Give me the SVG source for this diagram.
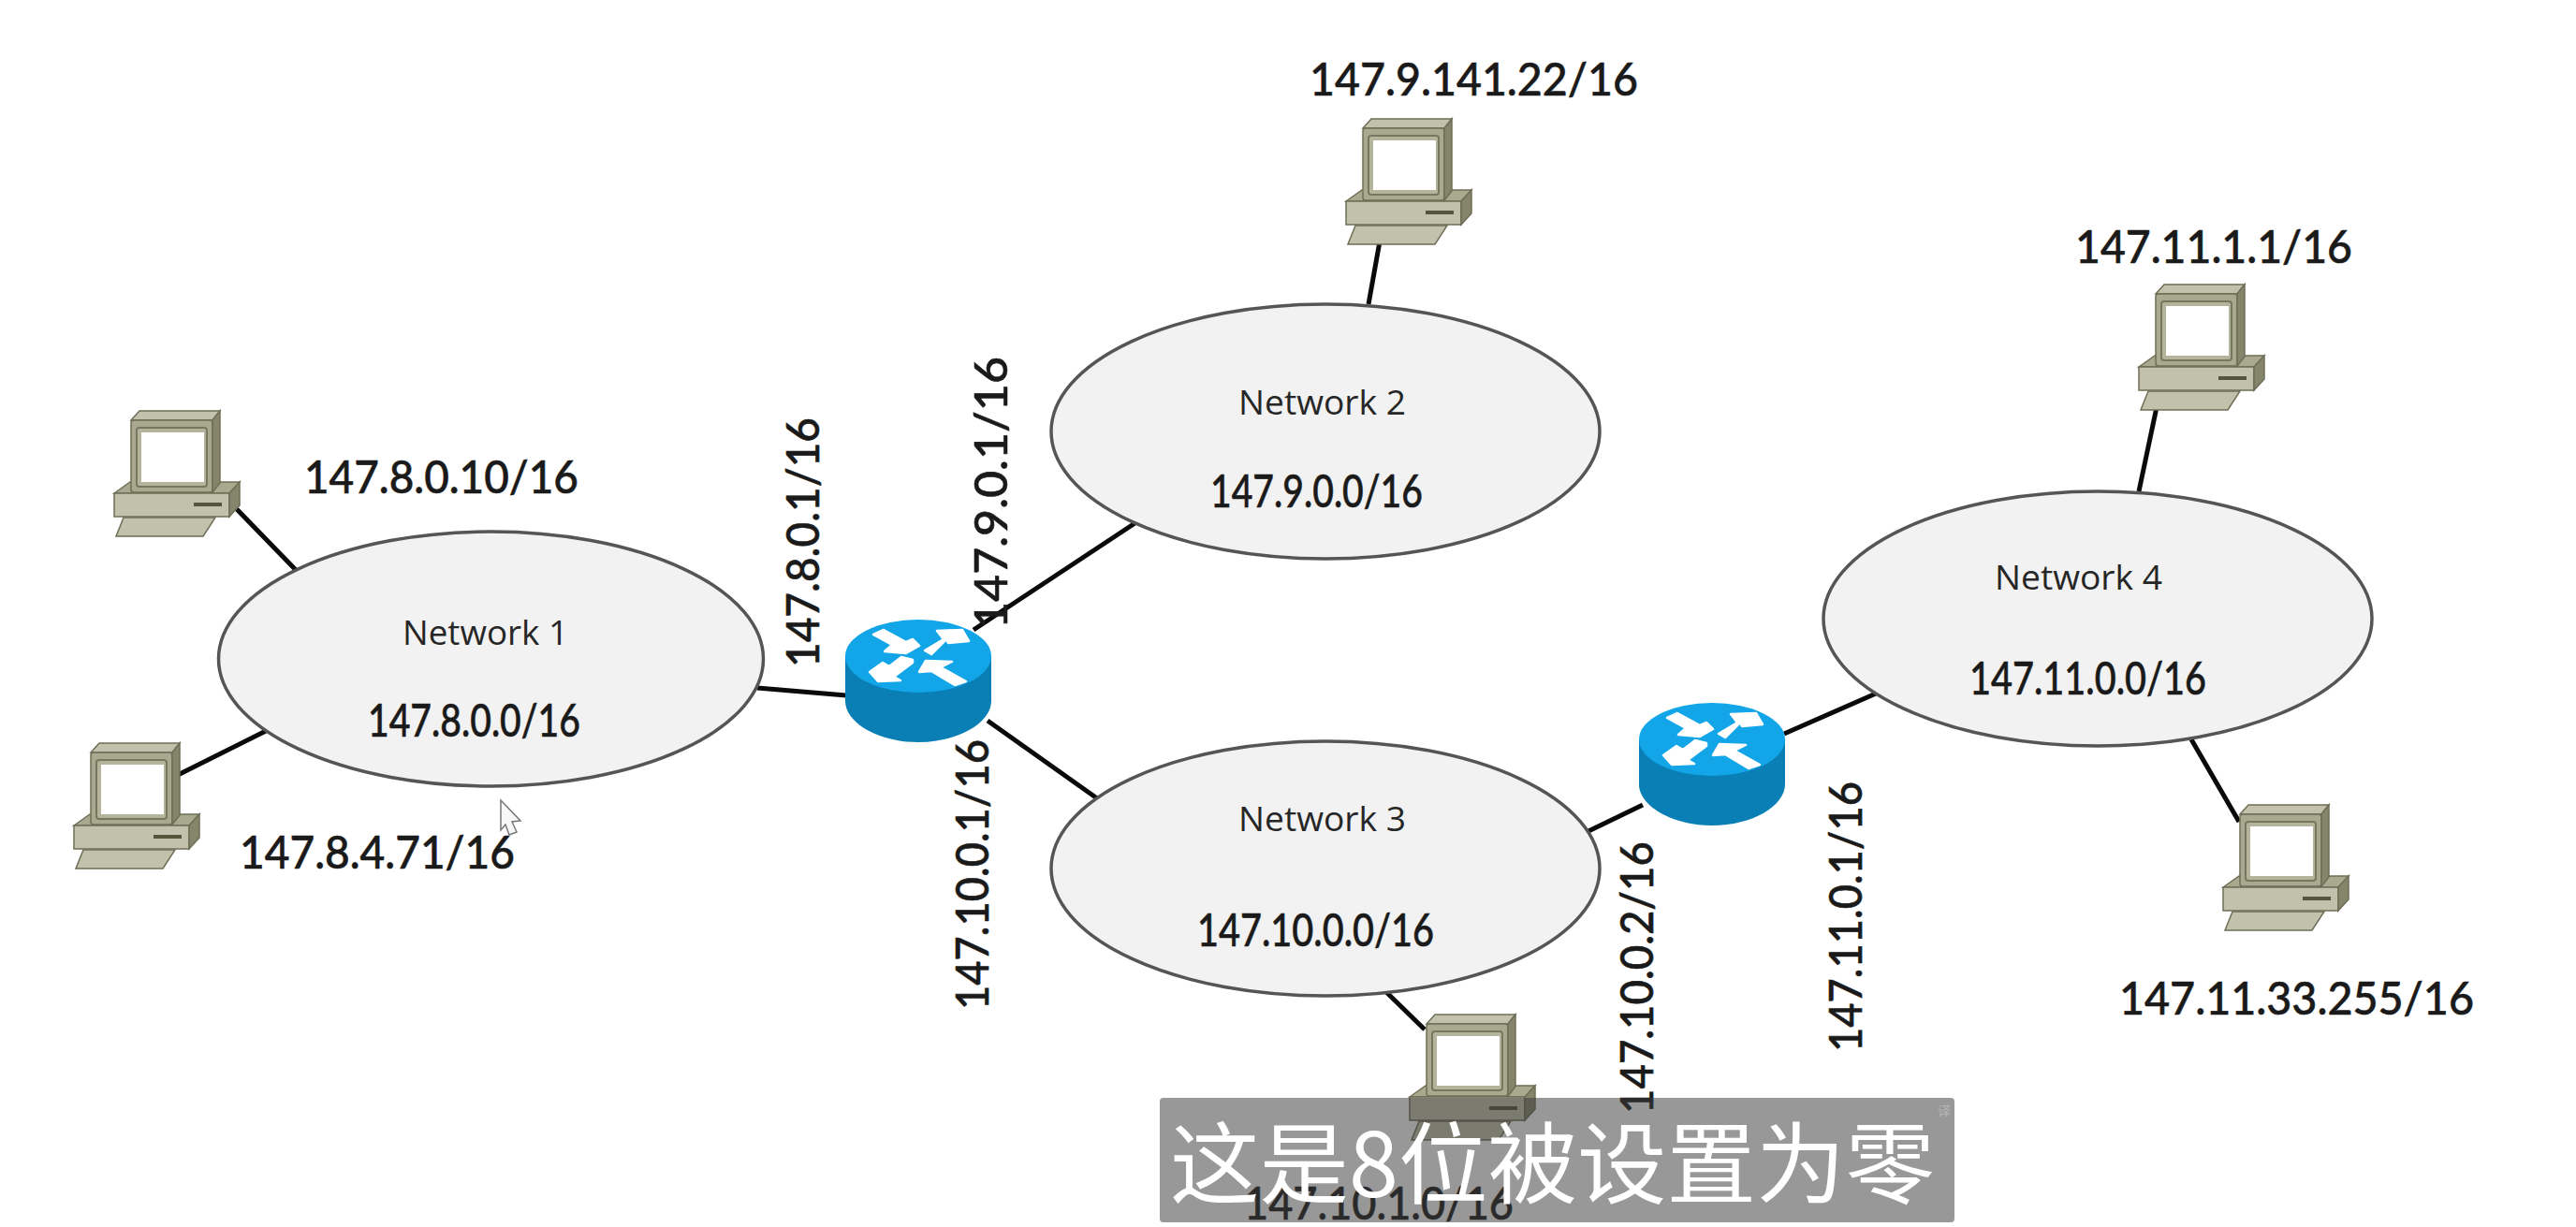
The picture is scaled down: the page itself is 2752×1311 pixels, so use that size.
<svg xmlns="http://www.w3.org/2000/svg" width="2752" height="1311" viewBox="0 0 2752 1311">
<style>
.net{fill:#f2f2f2;stroke:#555;stroke-width:3.5}
.link{stroke:#0a0a0a;stroke-width:5;fill:none;stroke-linecap:butt}
.ip{font-family:Lato,"Open Sans",sans-serif;font-size:49px;fill:#1a1a1a;font-weight:500;stroke:#1a1a1a;stroke-width:0.6}
.name{font-family:"Open Sans","Noto Sans",sans-serif;font-size:36px;fill:#262626}
.pc-l{fill:#c2c2ac;stroke:#6f6f58;stroke-width:1.5}
.pc-m{fill:#a9a98f;stroke:#6f6f58;stroke-width:1.5}
.pc-d{fill:#85856b;stroke:#6f6f58;stroke-width:1.5}
.arrow{fill:#fff;stroke:#fff;stroke-width:2.5;stroke-linejoin:round}
</style>
<defs>
<g id="pc">
<polygon class="pc-m" points="0,88 17,76 134,76 123,88"/>
<polygon class="pc-l" points="0,88 123,88 123,113 0,113"/>
<polygon class="pc-d" points="123,88 134,76 134,101 123,113"/>
<rect x="85" y="98" width="30" height="4" fill="#55553c"/>
<polygon class="pc-l" points="10,114 108,114 95,134 2,134"/>
<polygon class="pc-l" points="18,10 27,0 113,0 105,10"/>
<rect class="pc-m" x="18" y="10" width="87" height="77" rx="3"/>
<polygon class="pc-d" points="105,10 113,0 113,77 105,87"/>
<rect x="24" y="18" width="75" height="63" rx="3" fill="#b4b49c" stroke="#77775f" stroke-width="2"/>
<rect x="29" y="23" width="67" height="53" fill="#fff"/>
</g>
<g id="router">
<path d="M0,39V87C0,110 35,131 78,131S156,110 156,87V39Z" fill="#0a7fb5"/>
<ellipse cx="78" cy="39" rx="78" ry="39" fill="#12a5e8"/>
<polygon class="arrow" points="30,16 41,11 65,24 72,21 79,28 65,36 42,34 50,27"/>
<polygon class="arrow" points="85,33 105,21 98,12 125,11 132,23 110,25 108,21 92,37"/>
<polygon class="arrow" points="72,43 60,40 47,50 40,46 26,56 35,66 59,65 52,61 72,46"/>
<polygon class="arrow" points="79,56 86,44 114,45 102,51 129,66 117,70 92,55"/>
</g>
</defs>
<rect width="2752" height="1311" fill="#fff"/>
<g id="connectors">
<line class="link" x1="252" y1="543" x2="317" y2="610"/>
<line class="link" x1="190" y1="828" x2="284" y2="781"/>
<line class="link" x1="809" y1="735" x2="904" y2="743"/>
<line class="link" x1="1040" y1="673" x2="1214" y2="558"/>
<line class="link" x1="1055" y1="770" x2="1172" y2="853"/>
<line class="link" x1="1697" y1="888" x2="1755" y2="860"/>
<line class="link" x1="1906" y1="784" x2="2004" y2="741"/>
<line class="link" x1="1474" y1="258" x2="1462" y2="325"/>
<line class="link" x1="2304" y1="435" x2="2285" y2="525"/>
<line class="link" x1="2341" y1="790" x2="2392" y2="878"/>
<line class="link" x1="1481" y1="1060" x2="1522" y2="1100"/>
</g>
<g id="network1"><ellipse class="net" cx="524.5" cy="704" rx="291" ry="136"/><text class="name" x="430" y="689" textLength="177" lengthAdjust="spacingAndGlyphs">Network 1</text><text class="ip" x="393" y="787" textLength="227" lengthAdjust="spacingAndGlyphs">147.8.0.0/16</text></g>
<g id="network2"><ellipse class="net" cx="1416" cy="461" rx="293" ry="136"/><text class="name" x="1323" y="443" textLength="179" lengthAdjust="spacingAndGlyphs">Network 2</text><text class="ip" x="1293" y="542" textLength="227" lengthAdjust="spacingAndGlyphs">147.9.0.0/16</text></g>
<g id="network3"><ellipse class="net" cx="1416" cy="928" rx="293" ry="136"/><text class="name" x="1323" y="888" textLength="179" lengthAdjust="spacingAndGlyphs">Network 3</text><text class="ip" x="1279" y="1011" textLength="253" lengthAdjust="spacingAndGlyphs">147.10.0.0/16</text></g>
<g id="network4"><ellipse class="net" cx="2241" cy="661" rx="293" ry="136"/><text class="name" x="2131" y="630" textLength="179" lengthAdjust="spacingAndGlyphs">Network 4</text><text class="ip" x="2104" y="742" textLength="253" lengthAdjust="spacingAndGlyphs">147.11.0.0/16</text></g>
<g id="router1"><use href="#router" x="903" y="662"/></g>
<g id="router2"><use href="#router" x="1751" y="751"/></g>
<g id="pc1"><use href="#pc" x="122" y="439"/></g>
<g id="pc2"><use href="#pc" x="79" y="794"/></g>
<g id="pc3"><use href="#pc" x="1438" y="127"/></g>
<g id="pc4"><use href="#pc" x="2285" y="304"/></g>
<g id="pc5"><use href="#pc" x="2375" y="860"/></g>
<g id="pc6"><use href="#pc" x="1506" y="1084"/></g>
<g id="labels">
<text class="ip" x="1399" y="102" textLength="351" lengthAdjust="spacingAndGlyphs">147.9.141.22/16</text>
<text class="ip" x="2217" y="281" textLength="296" lengthAdjust="spacingAndGlyphs">147.11.1.1/16</text>
<text class="ip" x="325" y="527" textLength="293" lengthAdjust="spacingAndGlyphs">147.8.0.10/16</text>
<text class="ip" x="256" y="928" textLength="294" lengthAdjust="spacingAndGlyphs">147.8.4.71/16</text>
<text class="ip" x="2264" y="1084" textLength="379" lengthAdjust="spacingAndGlyphs">147.11.33.255/16</text>
<text class="ip" transform="translate(875,713) rotate(-90)" textLength="267" lengthAdjust="spacingAndGlyphs">147.8.0.1/16</text>
<text class="ip" transform="translate(1076,672) rotate(-90)" textLength="291" lengthAdjust="spacingAndGlyphs">147.9.0.1/16</text>
<text class="ip" transform="translate(1056,1079) rotate(-90)" textLength="289" lengthAdjust="spacingAndGlyphs">147.10.0.1/16</text>
<text class="ip" transform="translate(1766,1190) rotate(-90)" textLength="291" lengthAdjust="spacingAndGlyphs">147.10.0.2/16</text>
<text class="ip" transform="translate(1989,1124) rotate(-90)" textLength="289" lengthAdjust="spacingAndGlyphs">147.11.0.1/16</text>
<text class="ip" x="1329" y="1303" textLength="288" lengthAdjust="spacingAndGlyphs">147.10.1.0/16</text>
</g>
<polygon points="535,855 556,877 547,878 552,889 544,892 540,881 535,887" fill="#f7f7f7" stroke="#777" stroke-width="1.5"/>
<g id="caption">
<rect x="1239" y="1173" width="849" height="133" rx="4" fill="#3a3a3a" fill-opacity="0.52"/>
<text x="1250" y="1279" font-family="Noto Sans CJK SC,sans-serif" font-size="95" font-weight="400" fill="#fff" textLength="817" lengthAdjust="spacingAndGlyphs">这是8位被设置为零</text>
<text x="2070" y="1192" font-family="Noto Sans CJK SC,sans-serif" font-size="14" fill="#b5b5b5">译</text>
</g>
</svg>
